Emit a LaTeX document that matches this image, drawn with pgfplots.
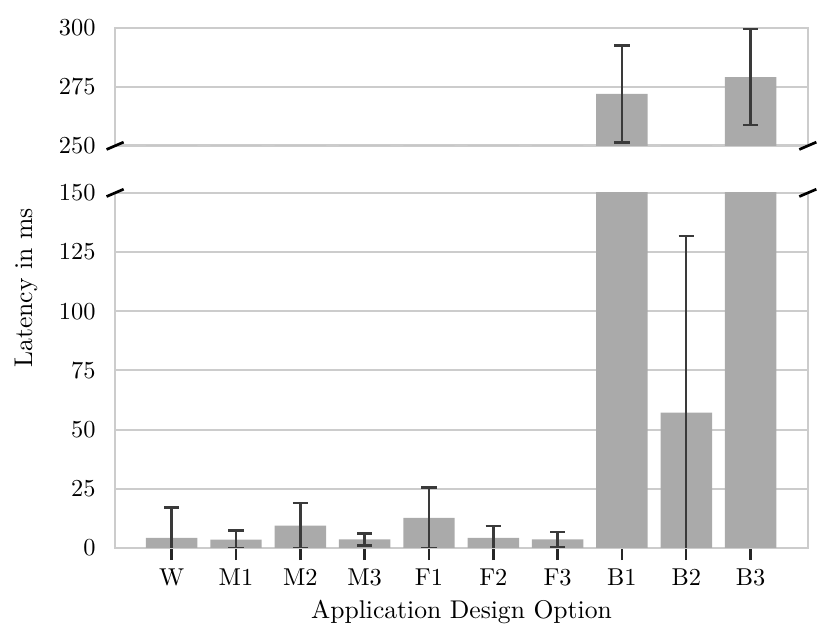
\documentclass[border=0pt]{standalone}
\usepackage{pgfplots}
\usepackage{pgfplotstable}
\pgfplotsset{compat=1.18}

\definecolor{bargray}{HTML}{AAAAAA}
\definecolor{gridgray}{HTML}{CCCCCC}
\definecolor{errgray}{HTML}{3A3A3A}
\definecolor{tickdark}{HTML}{262626}

% mean latency and its error (ms)
\pgfplotstableread{
x y err
0 4.2 12.8
1 3.5 3.8
2 9.4 9.6
3 3.6 2.5
4 12.7 12.9
5 4.2 5.0
6 3.6 3.2
7 272.0 20.6
8 57.2 74.6
9 279.2 20.3
}\latency

\pgfplotsset{
  brokenpanel/.style={
    scale only axis,
    width=284.1pt,
    xmin=-0.88, xmax=9.89,
    axis line style={gridgray, line width=1.1pt},
    ymajorgrids,
    grid style={gridgray, line width=0.8pt},
    ytick style={draw=none},
    yticklabel style={xshift=-4.5pt},
    ybar, bar width=0.8, bar shift=0pt,
  },
  latplot/.style={
    fill=bargray, draw=none,
    error bars/.cd, y dir=both, y explicit,
    error bar style={errgray, line width=1pt},
    error mark options={rotate=90, errgray, mark size=3.1pt, line width=1pt},
  },
}

\begin{document}
\begin{tikzpicture}
% bottom panel
\begin{axis}[
  brokenpanel,
  at={(0pt,0pt)},
  height=145.6pt,
  ymin=0, ymax=150,
  ytick={0,25,50,75,100,125,150},
  xtick={0,1,2,3,4,5,6,7,8,9},
  xticklabels={W,M1,M2,M3,F1,F2,F3,B1,B2,B3},
  xtick pos=bottom,
  xtick align=outside,
  major tick length=5pt,
  xtick style={tickdark, line width=1pt},
  xlabel={Application Design Option},
  xlabel style={font=\fontsize{10.5}{12}\selectfont, yshift=1pt},
]
\addplot[latplot] table[x=x, y=y, y error=err] {\latency};
\end{axis}

% top panel
\begin{axis}[
  brokenpanel,
  at={(0pt,164.9pt)},
  height=48.3pt,
  ymin=250, ymax=300,
  ytick={250,275,300},
  xtick=\empty,
]
\addplot[latplot] table[x=x, y=y, y error=err] {\latency};
\end{axis}

% break marks
\foreach \px in {0pt,284.1pt}{
  \draw[black, line width=1.1pt] ([xshift=-3.5pt,yshift=-1.5pt]\px,164.9pt) -- ([xshift=3.5pt,yshift=1.5pt]\px,164.9pt);
  \draw[black, line width=1.1pt] ([xshift=-3.5pt,yshift=-1.5pt]\px,145.6pt) -- ([xshift=3.5pt,yshift=1.5pt]\px,145.6pt);
}

\node[rotate=90, font=\fontsize{10.5}{12}\selectfont] at (-36.5pt,106.6pt) {Latency in ms};

\pgfresetboundingbox
\path (-47.2pt,-36.9pt) rectangle (293.6pt,224.7pt);
\end{tikzpicture}
\end{document}
